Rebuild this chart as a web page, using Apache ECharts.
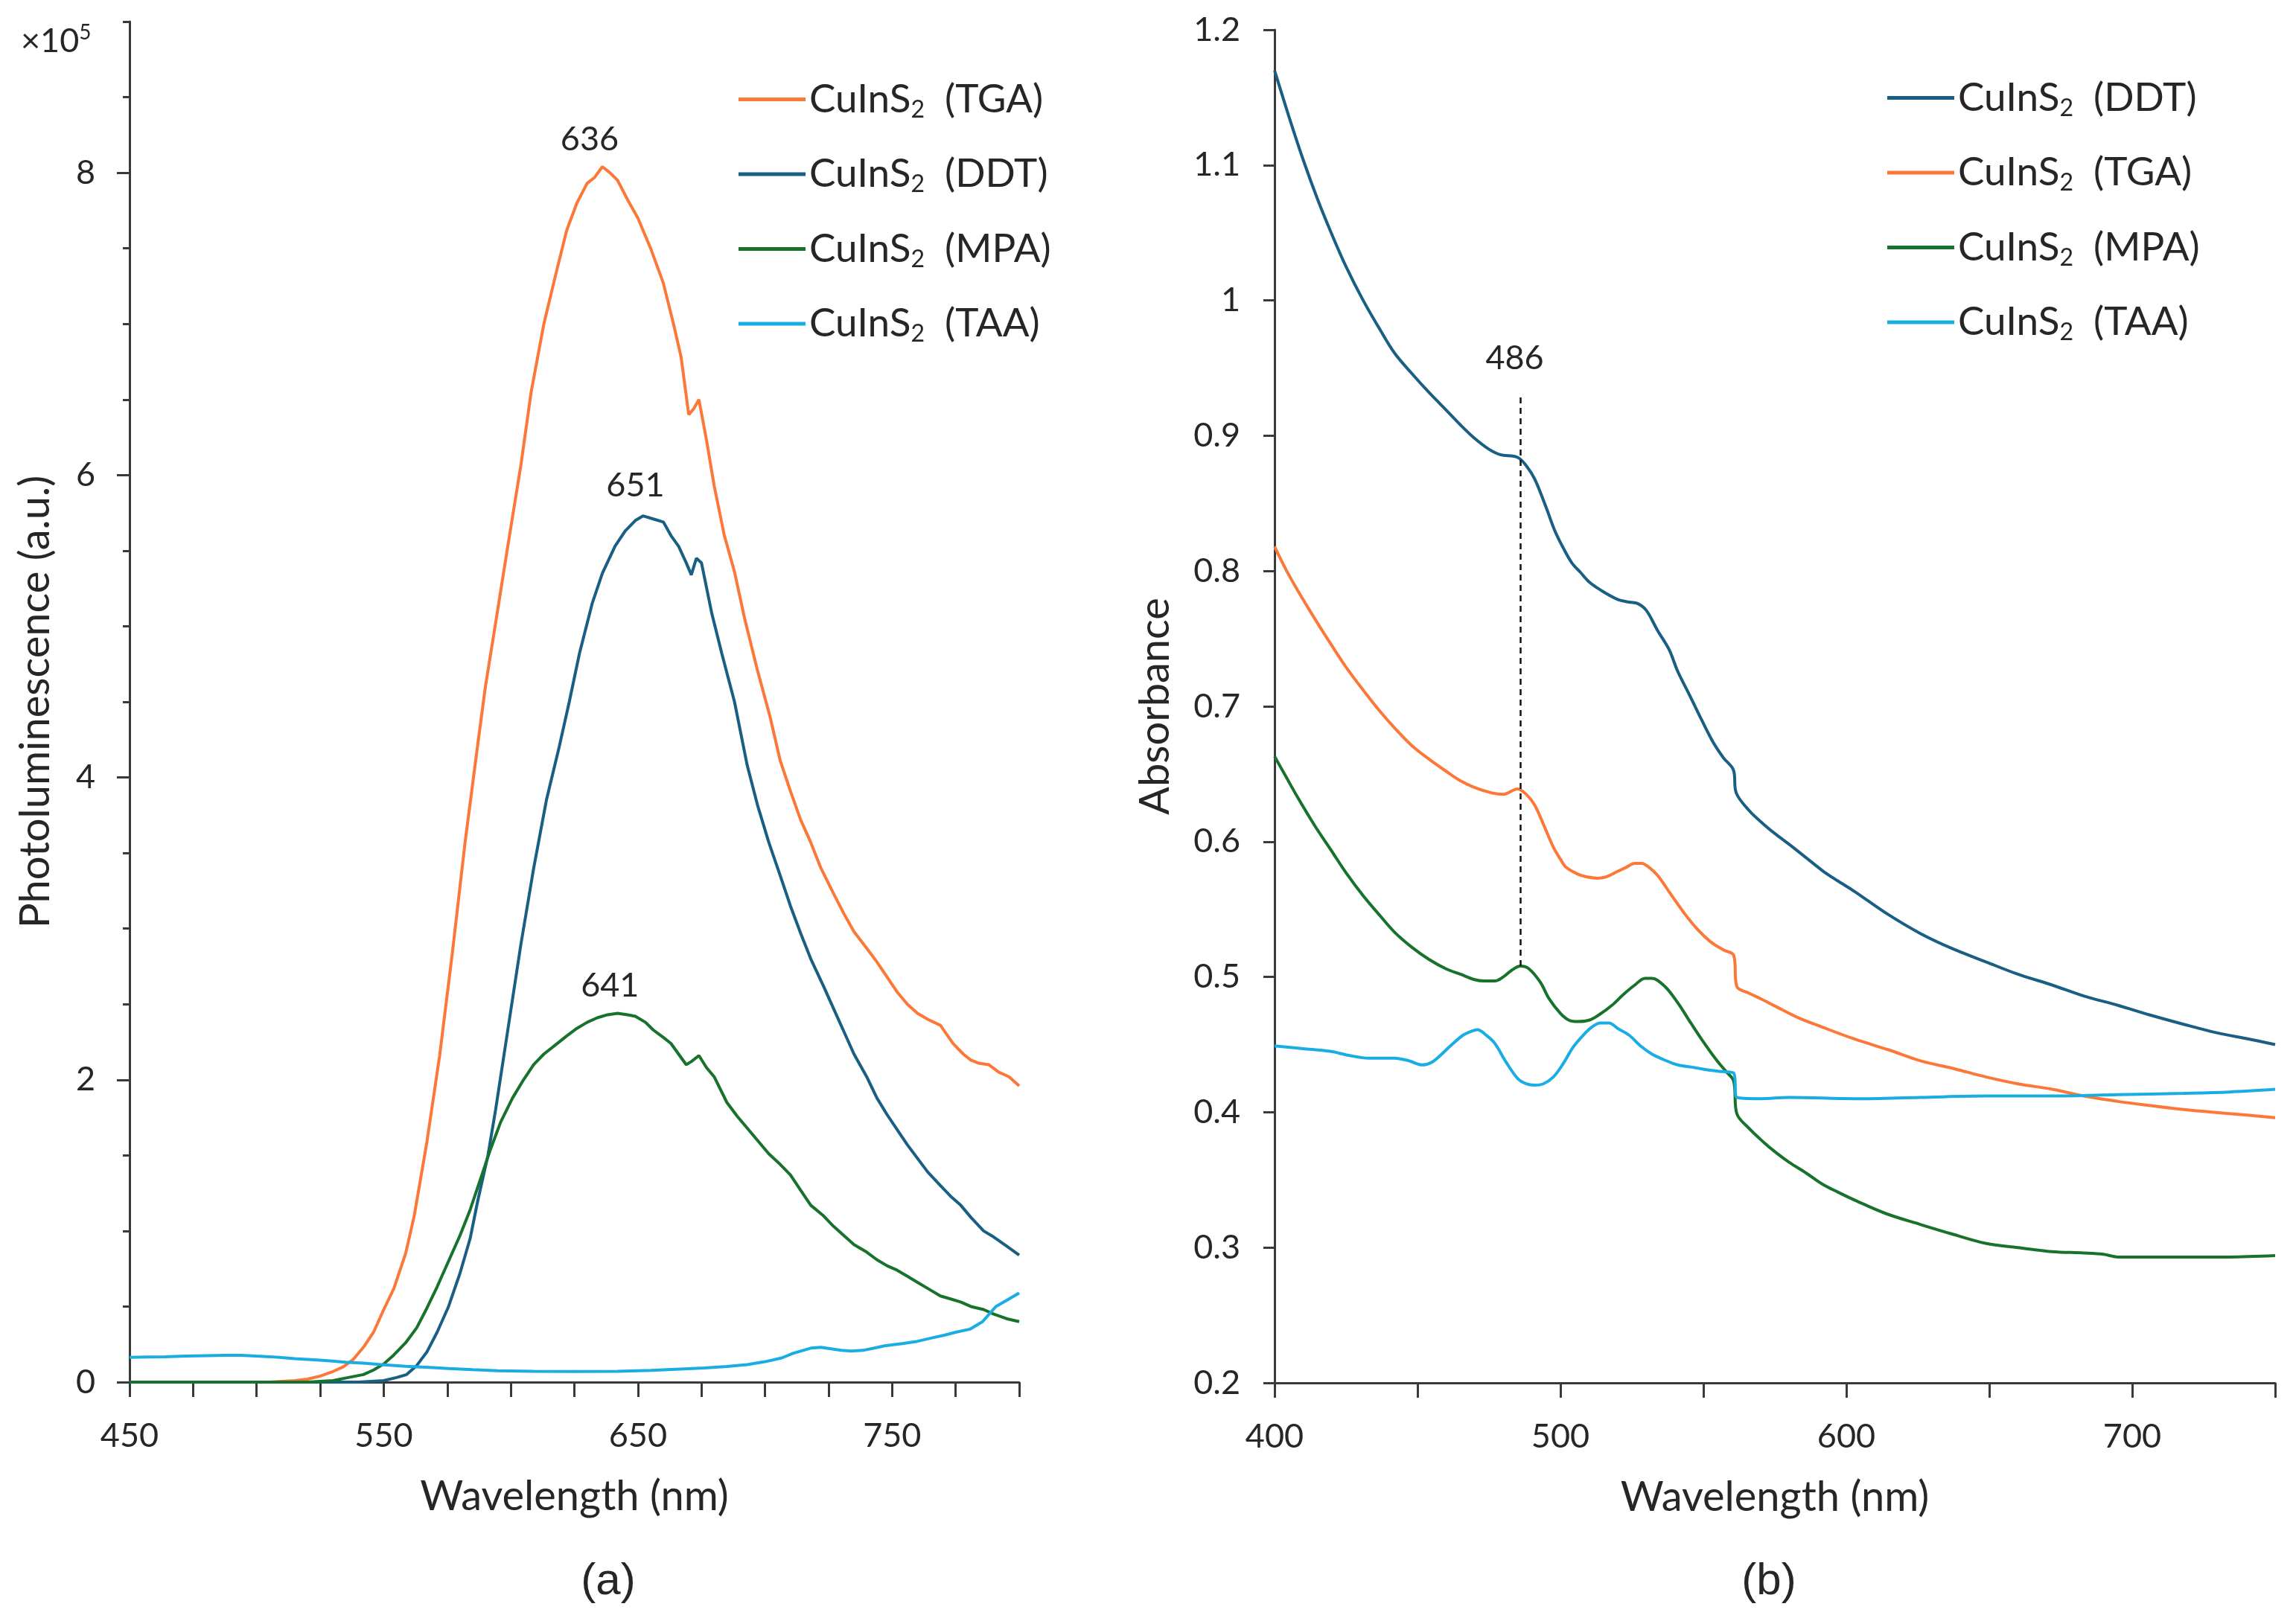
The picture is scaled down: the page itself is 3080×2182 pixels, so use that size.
<!DOCTYPE html>
<html>
<head>
<meta charset="utf-8">
<script src="https://cdn.jsdelivr.net/npm/echarts@6/dist/echarts.min.js"></script>
<style>
  html, body { margin: 0; padding: 0; background: #fff; }
  #grafico { width: 3080px; height: 2182px; }
</style>
</head>
<body>
<div id="grafico"></div>
<script>
// Datos: [longitud de onda (nm), valor]
const colores = {
  'CuInS2 (TGA)': '#fb7838',
  'CuInS2 (DDT)': '#195f84',
  'CuInS2 (MPA)': '#17722b',
  'CuInS2 (TAA)': '#19ade3'
};

// (a) Fotoluminiscencia (x10^5)
const plTGA = [[450,0],[480,0],[505,0],[515,0.01],[520,0.02],[525,0.04],[530,0.07],[534,0.1],[538,0.15],[542,0.23],[546,0.33],[550,0.48],[554,0.62],[558.6,0.85],[562,1.1],[567,1.59],[572,2.16],[577,2.84],[582,3.57],[587,4.22],[590,4.6],[594,5.02],[599,5.55],[604,6.07],[608,6.55],[613,7.0],[618,7.35],[622,7.62],[626,7.8],[630,7.93],[633,7.97],[636,8.04],[639,8.0],[642,7.95],[646,7.82],[650,7.7],[655,7.5],[660,7.27],[664,7.0],[667,6.78],[670,6.4],[672,6.44],[674,6.5],[677,6.23],[680,5.93],[684,5.6],[688,5.36],[692,5.05],[697,4.71],[702,4.4],[706,4.11],[710,3.91],[714,3.72],[718,3.57],[722,3.4],[727,3.23],[731,3.1],[735,2.98],[740,2.87],[744,2.78],[748,2.68],[752,2.58],[756,2.5],[760,2.44],[764,2.4],[769,2.36],[774,2.24],[778,2.17],[781,2.13],[784,2.11],[788,2.1],[792,2.05],[796,2.02],[800,1.96]];
const plDDT = [[450,0],[540,0],[550,0.01],[555,0.03],[559,0.05],[563,0.11],[567,0.2],[571,0.33],[575.5,0.5],[580,0.72],[584,0.95],[587,1.2],[591,1.5],[594,1.8],[599,2.35],[604,2.9],[609,3.4],[614,3.85],[619,4.2],[623,4.5],[627,4.82],[632,5.15],[636,5.35],[641,5.53],[645,5.63],[649,5.7],[652,5.73],[656,5.71],[660,5.69],[663,5.6],[666,5.53],[669,5.42],[671,5.34],[673,5.45],[675,5.42],[679,5.09],[683,4.82],[688,4.5],[693,4.08],[697,3.82],[701.5,3.57],[706,3.35],[710,3.15],[714,2.97],[718,2.8],[723,2.62],[727,2.47],[731,2.32],[735,2.17],[740,2.02],[744,1.88],[748,1.77],[752,1.67],[756,1.57],[760,1.48],[764,1.39],[769,1.3],[773,1.23],[777,1.17],[781,1.09],[786,1.0],[790,0.96],[795,0.9],[800,0.84]];
const plMPA = [[450,0],[500,0],[520,0],[530,0.01],[536,0.03],[542,0.05],[546,0.08],[550,0.12],[554,0.18],[558.6,0.26],[563,0.36],[567,0.49],[571,0.63],[575.5,0.8],[580,0.97],[584,1.14],[588,1.34],[592,1.54],[596,1.72],[600.7,1.88],[605,2.0],[609,2.1],[613,2.17],[617.5,2.23],[622,2.29],[626,2.34],[630,2.38],[634,2.41],[638,2.43],[642,2.44],[646,2.43],[649,2.42],[653,2.38],[656,2.33],[660,2.28],[663,2.24],[666,2.17],[669,2.1],[671,2.12],[674,2.16],[677,2.08],[680,2.02],[685,1.85],[689,1.76],[693,1.68],[697,1.6],[701.5,1.51],[706,1.44],[710,1.37],[714,1.27],[718,1.17],[723,1.1],[727,1.03],[731,0.97],[735,0.91],[740,0.86],[744,0.81],[748,0.77],[752,0.74],[756,0.7],[760,0.66],[765,0.61],[769,0.57],[773,0.55],[777,0.53],[781,0.5],[786,0.48],[790,0.45],[795,0.42],[800,0.4]];
const plTAA = [[450,0.164],[457,0.166],[464,0.168],[472,0.172],[480,0.175],[487,0.177],[494,0.177],[500,0.172],[505,0.168],[509,0.164],[515,0.155],[520,0.15],[525,0.145],[529,0.14],[535,0.132],[542,0.125],[550,0.115],[558.6,0.105],[568,0.097],[575.5,0.09],[585,0.082],[595,0.075],[609,0.072],[625,0.07],[642,0.072],[655,0.078],[665,0.085],[676,0.093],[685,0.103],[693,0.116],[700,0.135],[706.6,0.16],[711,0.19],[715,0.21],[718,0.225],[722,0.23],[726,0.22],[730,0.21],[734,0.205],[738.5,0.21],[743,0.225],[747,0.24],[754,0.255],[760,0.27],[765,0.29],[770.5,0.31],[775,0.33],[780.6,0.35],[785.6,0.4],[790.8,0.5],[795,0.54],[800,0.59]];

// (b) Absorbancia
const abDDT = [[400,1.17],[405,1.136],[410,1.104],[415,1.075],[420,1.049],[425,1.025],[431,1.0],[437,0.978],[442,0.961],[448,0.946],[454,0.932],[460,0.919],[465,0.908],[470,0.898],[475,0.89],[479,0.886],[485,0.884],[488,0.878],[491,0.868],[495,0.847],[498,0.83],[501,0.817],[504,0.806],[507,0.799],[510,0.792],[514,0.786],[520,0.779],[524,0.777],[527,0.776],[530,0.771],[534,0.756],[538,0.742],[541,0.726],[545,0.709],[548,0.696],[553,0.675],[557,0.662],[560.5,0.653],[561.5,0.636],[566,0.623],[571,0.613],[575,0.606],[580,0.598],[586,0.588],[592,0.578],[597,0.571],[603,0.563],[614,0.547],[626,0.532],[637,0.521],[649,0.511],[660,0.502],[672,0.494],[683,0.486],[695,0.479],[706,0.472],[718,0.465],[729,0.459],[741,0.454],[750,0.45]];
const abTGA = [[400,0.818],[404,0.801],[408,0.786],[414,0.765],[420,0.745],[425,0.729],[431,0.712],[437,0.696],[442,0.684],[448,0.671],[454,0.661],[460,0.652],[465,0.645],[470,0.64],[476,0.636],[480,0.635],[485,0.639],[488,0.635],[491,0.627],[494,0.613],[497.5,0.596],[500,0.587],[502,0.581],[506,0.576],[509,0.574],[513,0.573],[516,0.574],[520,0.578],[523,0.581],[526,0.584],[528.4,0.584],[531,0.581],[534,0.575],[538,0.563],[543,0.548],[548,0.535],[552.5,0.526],[557,0.52],[560.6,0.516],[561.7,0.493],[566,0.488],[570,0.484],[575.5,0.478],[583,0.47],[591.5,0.463],[603,0.454],[615,0.446],[626,0.438],[638,0.432],[649,0.426],[660,0.421],[672,0.417],[683,0.412],[695,0.408],[706,0.405],[718,0.402],[734,0.399],[750,0.396]];
const abMPA = [[400,0.663],[404,0.648],[408,0.633],[414,0.612],[420,0.593],[425,0.577],[431,0.56],[437,0.545],[442,0.533],[448,0.522],[454,0.513],[460,0.506],[465,0.502],[470,0.498],[473.4,0.497],[477,0.497],[480,0.5],[483,0.505],[486,0.508],[489,0.506],[493,0.496],[496,0.484],[500,0.473],[503,0.468],[506,0.467],[510,0.468],[513.5,0.472],[518,0.479],[522,0.487],[526,0.494],[529.6,0.499],[532,0.499],[536.5,0.493],[541,0.481],[545.6,0.466],[550,0.452],[554.8,0.438],[558,0.43],[560.6,0.423],[561.7,0.399],[566,0.388],[571,0.378],[575.5,0.37],[580,0.363],[586,0.355],[591.5,0.347],[597,0.341],[603,0.335],[614,0.325],[626,0.317],[637,0.31],[649,0.303],[660,0.3],[672,0.297],[683,0.296],[690,0.295],[695,0.293],[706,0.293],[718,0.293],[734,0.293],[750,0.294]];
const abTAA = [[400,0.449],[410,0.447],[419.5,0.445],[426,0.442],[433,0.44],[442,0.44],[447,0.438],[451.6,0.435],[455,0.437],[458.5,0.443],[462,0.45],[466,0.457],[469,0.46],[471,0.461],[474,0.457],[477,0.451],[481,0.437],[485,0.425],[488,0.421],[491,0.42],[494,0.421],[497.5,0.426],[501,0.436],[504.4,0.448],[508,0.457],[511,0.463],[514,0.466],[517,0.466],[520,0.462],[524,0.457],[528,0.449],[532,0.443],[536,0.439],[541,0.435],[547,0.433],[552.5,0.431],[557,0.43],[560.6,0.429],[561.7,0.411],[570,0.41],[580,0.411],[603,0.41],[626,0.411],[649,0.412],[672,0.412],[695,0.413],[718,0.414],[734,0.415],[750,0.417]];

// Etiquetas de picos: [x, y, texto]
const picosPL = [[631, 8.22, '636'], [649, 5.93, '651'], [639, 2.62, '641']];
const picoAbs = [484, 0.957, '486'];
const lineaAbs = [[486, 0.508], [486, 0.93]];

// Marcas de los ejes
const ticksXPL = [450, 550, 650, 750];
const ticksYPL = [0, 2, 4, 6, 8];
const ticksXAbs = [400, 500, 600, 700];

const fuente = 'Lato';
const colorTexto = '#262626';
const colorEje = '#3a3a3a';

function leyendaTexto(nombre) {
  const etiqueta = nombre.split(' ')[1];
  return '{n|CuInS}{s|2}{n|  ' + etiqueta + '}';
}

const richLeyenda = {
  n: { fontFamily: fuente, fontSize: 53, color: colorTexto, lineHeight: 60 },
  s: { fontFamily: fuente, fontSize: 32, color: colorTexto, lineHeight: 34, verticalAlign: 'bottom' }
};

function etiquetaPunto(x, y, texto) {
  return {
    name: texto,
    coord: [x, y],
    symbol: 'circle',
    symbolSize: 1,
    itemStyle: { color: 'rgba(0,0,0,0)' },
    label: {
      show: true, position: 'inside', formatter: '{b}',
      fontFamily: fuente, fontSize: 45, color: colorTexto
    }
  };
}

function serie(nombre, datos, ejeX, ejeY, extra) {
  return Object.assign({
    name: nombre,
    type: 'line',
    xAxisIndex: ejeX,
    yAxisIndex: ejeY,
    data: datos,
    showSymbol: false,
    symbol: 'none',
    lineStyle: { width: 4, color: colores[nombre] },
    itemStyle: { color: colores[nombre] },
    z: 3
  }, extra || {});
}

const ejeBase = {
  axisLine: { show: true, lineStyle: { color: colorEje, width: 3 } },
  splitLine: { show: false },
  axisLabel: { fontFamily: fuente, fontSize: 45, color: colorTexto },
  nameTextStyle: { fontFamily: fuente, fontSize: 56, color: colorTexto },
  nameLocation: 'middle'
};

const grafico = echarts.init(document.getElementById('grafico'));

const opciones = {
  backgroundColor: '#ffffff',
  animation: false,
  grid: [
    { left: 174, top: 29, width: 1195, height: 1828 },
    { left: 1712, top: 40, width: 1344, height: 1818 }
  ],
  xAxis: [
    Object.assign({}, ejeBase, {
      type: 'value', gridIndex: 0, min: 450, max: 800, interval: 25,
      name: 'Wavelength (nm)', nameGap: 126,
      axisTick: { show: true, length: 20, lineStyle: { color: colorEje, width: 3 } },
      axisLabel: Object.assign({}, ejeBase.axisLabel, { margin: 50, customValues: ticksXPL })
    }),
    Object.assign({}, ejeBase, {
      type: 'value', gridIndex: 1, min: 400, max: 750, interval: 50,
      name: 'Wavelength (nm)', nameGap: 126,
      axisTick: { show: true, length: 20, lineStyle: { color: colorEje, width: 3 } },
      axisLabel: Object.assign({}, ejeBase.axisLabel, { margin: 50, customValues: ticksXAbs })
    })
  ],
  yAxis: [
    Object.assign({}, ejeBase, {
      type: 'value', gridIndex: 0, position: 'left', min: 0, max: 9, interval: 0.5,
      name: 'Photoluminescence (a.u.)', nameGap: 98,
      axisTick: { show: true, length: 9, lineStyle: { color: colorEje, width: 3 } },
      axisLabel: Object.assign({}, ejeBase.axisLabel, { margin: 46, customValues: ticksYPL })
    }),
    {
      // marcas principales más largas cada 2 unidades
      type: 'value', gridIndex: 0, position: 'left', offset: 0, min: 0, max: 9,
      axisLine: { show: false },
      splitLine: { show: false },
      axisLabel: { show: false },
      axisTick: { show: true, length: 17, customValues: ticksYPL, lineStyle: { color: colorEje, width: 3 } }
    },
    Object.assign({}, ejeBase, {
      type: 'value', gridIndex: 1, position: 'left', min: 0.2, max: 1.2, interval: 0.1,
      name: 'Absorbance', nameGap: 132,
      axisTick: { show: true, length: 15, lineStyle: { color: colorEje, width: 3 } },
      axisLabel: Object.assign({}, ejeBase.axisLabel, {
        margin: 46,
        formatter: v => String(Math.round(v * 10) / 10)
      })
    })
  ],
  legend: [
    {
      orient: 'vertical', left: 987, top: 102,
      itemWidth: 90, itemHeight: 5, itemGap: 44, icon: 'rect',
      data: ['CuInS2 (TGA)', 'CuInS2 (DDT)', 'CuInS2 (MPA)', 'CuInS2 (TAA)'],
      formatter: leyendaTexto,
      textStyle: { rich: richLeyenda }
    },
    {
      orient: 'vertical', left: 2530, top: 100,
      itemWidth: 90, itemHeight: 5, itemGap: 44, icon: 'rect',
      data: ['CuInS2 (DDT)', 'CuInS2 (TGA)', 'CuInS2 (MPA)', 'CuInS2 (TAA)'],
      formatter: leyendaTexto,
      textStyle: { rich: richLeyenda }
    }
  ],
  graphic: [
    {
      type: 'text', left: 28, top: 30,
      style: {
        text: '{a|×10}{b|5}',
        rich: {
          a: { fontFamily: fuente, fontSize: 45, fill: colorTexto, lineHeight: 50 },
          b: { fontFamily: fuente, fontSize: 28, fill: colorTexto, lineHeight: 30, verticalAlign: 'top' }
        }
      }
    },
    {
      type: 'text', x: 817, y: 2125,
      style: { text: '(a)', fontFamily: 'Liberation Sans', fontSize: 60, fill: colorTexto, align: 'center', verticalAlign: 'middle' }
    },
    {
      type: 'text', x: 2376, y: 2125,
      style: { text: '(b)', fontFamily: 'Liberation Sans', fontSize: 60, fill: colorTexto, align: 'center', verticalAlign: 'middle' }
    }
  ],
  series: [
    serie('CuInS2 (TGA)', plTGA, 0, 0, {
      markPoint: { silent: true, data: picosPL.map(p => etiquetaPunto(p[0], p[1], p[2])) }
    }),
    serie('CuInS2 (DDT)', plDDT, 0, 0),
    serie('CuInS2 (MPA)', plMPA, 0, 0),
    serie('CuInS2 (TAA)', plTAA, 0, 0),
    serie('CuInS2 (DDT)', abDDT, 1, 2, { smooth: 0.35 }),
    serie('CuInS2 (TGA)', abTGA, 1, 2, { smooth: 0.35 }),
    serie('CuInS2 (MPA)', abMPA, 1, 2, {
      smooth: 0.35,
      markLine: {
        silent: true, symbol: ['none', 'none'],
        label: { show: false },
        lineStyle: { type: [8, 6], color: '#111', width: 2.5 },
        data: [[{ coord: lineaAbs[0] }, { coord: lineaAbs[1] }]]
      },
      markPoint: { silent: true, data: [etiquetaPunto(picoAbs[0], picoAbs[1], picoAbs[2])] }
    }),
    serie('CuInS2 (TAA)', abTAA, 1, 2, { smooth: 0.35 })
  ]
};

grafico.setOption(opciones);
</script>
</body>
</html>
